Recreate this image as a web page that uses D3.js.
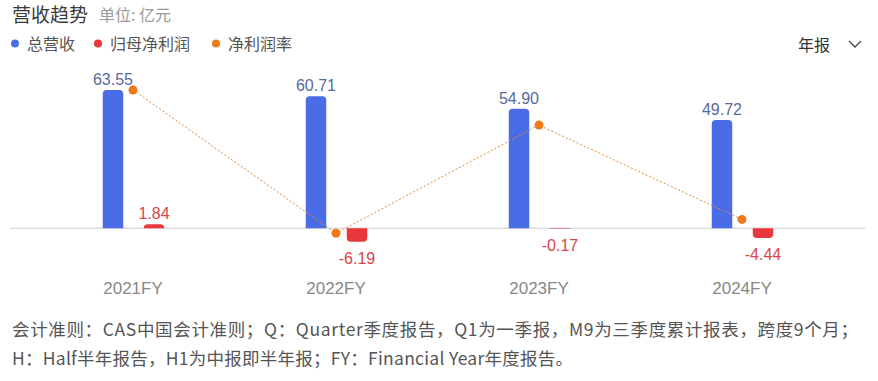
<!DOCTYPE html>
<html>
<head>
<meta charset="utf-8">
<script src="https://cdn.jsdelivr.net/npm/d3@7"></script>
<style>
  body { margin: 0; background: #fff; }
  svg { display: block; font-family: "Liberation Sans", Arial, sans-serif; }
  .cjk { font-family: "Noto Sans CJK SC", "Liberation Sans", sans-serif; }
</style>
</head>
<body>
<svg id="canvas" width="878" height="381"></svg>
<script>
// Data
let years = ["2021FY", "2022FY", "2023FY", "2024FY"];
let revenue = [63.55, 60.71, 54.90, 49.72];
let netProfit = [1.84, -6.19, -0.17, -4.44];
let netMargin = [2.90, -10.20, -0.31, -8.93];

let legendItems = [
    { name: "总营收", color: "#4a6ce6" },
    { name: "归母净利润", color: "#e8383d" },
    { name: "净利润率", color: "#ee7a1b" }
];

let footLines = [
    "会计准则：CAS中国会计准则；Q：Quarter季度报告，Q1为一季报，M9为三季度累计报表，跨度9个月；",
    "H：Half半年报告，H1为中报即半年报；FY：Financial Year年度报告。"
];
let footLengths = [846, 561];

let width = 878;
let height = 381;
let canvas = d3.select("#canvas");

// Scales
let x = d3.scaleBand().domain(years).range([31.5, 843.5]);
let inner = d3.scaleBand().domain(["rev", "np"]).range([61, 143]).paddingInner(0.5).paddingOuter(0.25);
let y = d3.scaleLinear().domain([0, 63.55]).range([228.3, 90]);
let yMargin = d3.scaleLinear().domain([-10.20, 2.90]).range([233.3, 90]);


function roundedBar(x0, w, yTop, yBottom, up) {
    let h = Math.abs(yBottom - yTop);
    let r = Math.min(4, h, w / 2);
    let p = d3.path();
    if (up) {
        p.moveTo(x0, yBottom);
        p.lineTo(x0, yTop + r);
        p.arcTo(x0, yTop, x0 + r, yTop, r);
        p.lineTo(x0 + w - r, yTop);
        p.arcTo(x0 + w, yTop, x0 + w, yTop + r, r);
        p.lineTo(x0 + w, yBottom);
    } else {
        p.moveTo(x0, yTop);
        p.lineTo(x0, yBottom - r);
        p.arcTo(x0, yBottom, x0 + r, yBottom, r);
        p.lineTo(x0 + w - r, yBottom);
        p.arcTo(x0 + w, yBottom, x0 + w, yBottom - r, r);
        p.lineTo(x0 + w, yTop);
    }
    p.closePath();
    return p.toString();
}


function drawHeader() {
    canvas.append("text").classed("cjk", true)
        .attr("x", 12).attr("y", 22)
        .attr("font-size", 19).attr("fill", "#3a3a3a")
        .text("营收趋势");
    canvas.append("text").classed("cjk", true)
        .attr("x", 99).attr("y", 21)
        .attr("font-size", 16).attr("fill", "#999")
        .text("单位: 亿元");

    let legendX = [15, 98, 216];
    let g = canvas.append("g");
    legendItems.forEach((d, i) => {
        g.append("circle")
            .attr("cx", legendX[i]).attr("cy", 43.5).attr("r", 4)
            .attr("fill", d.color);
        g.append("text").classed("cjk", true)
            .attr("x", legendX[i] + 12).attr("y", 49.5)
            .attr("font-size", 16).attr("fill", "#555")
            .text(d.name);
    });

    canvas.append("text").classed("cjk", true)
        .attr("x", 798).attr("y", 51)
        .attr("font-size", 16).attr("fill", "#333")
        .text("年报");
    canvas.append("path")
        .attr("d", "M849,41 L855,47 L861,41")
        .attr("fill", "none").attr("stroke", "#444").attr("stroke-width", 1.3);
}


function drawChart() {
    // zero line
    canvas.append("line")
        .attr("x1", 10).attr("x2", 865)
        .attr("y1", y(0)).attr("y2", y(0))
        .attr("stroke", "#ddd").attr("stroke-width", 1.5);

    // revenue bars
    canvas.append("g").selectAll("path")
        .data(years)
        .enter()
        .append("path")
        .attr("fill", legendItems[0].color)
        .attr("d", (d, i) => roundedBar(x(d) + inner("rev"), inner.bandwidth(), y(revenue[i]), y(0), true));

    canvas.append("g").selectAll("text")
        .data(years)
        .enter()
        .append("text")
        .attr("x", d => x(d) + inner("rev") + inner.bandwidth() / 2)
        .attr("y", (d, i) => y(revenue[i]) - 5)
        .attr("text-anchor", "middle")
        .attr("font-size", 16)
        .attr("fill", "#5a6a9e")
        .text((d, i) => revenue[i].toFixed(2));

    // net profit bars
    canvas.append("g").selectAll("path")
        .data(years)
        .enter()
        .append("path")
        .attr("fill", legendItems[1].color)
        .attr("d", (d, i) => {
            let v = netProfit[i];
            return v >= 0
                ? roundedBar(x(d) + inner("np"), inner.bandwidth(), y(v), y(0), true)
                : roundedBar(x(d) + inner("np"), inner.bandwidth(), y(0), y(v), false);
        });

    canvas.append("g").selectAll("text")
        .data(years)
        .enter()
        .append("text")
        .attr("x", d => x(d) + inner("np") + inner.bandwidth() / 2)
        .attr("y", (d, i) => netProfit[i] >= 0 ? y(netProfit[i]) - 5 : y(netProfit[i]) + 22.5)
        .attr("text-anchor", "middle")
        .attr("font-size", 16)
        .attr("fill", "#d8454a")
        .text((d, i) => netProfit[i].toFixed(2));

    // net margin line
    let line = d3.line()
        .x((d, i) => x(years[i]) + x.bandwidth() / 2)
        .y(d => yMargin(d));
    canvas.append("path")
        .datum(netMargin)
        .attr("d", line)
        .attr("fill", "none")
        .attr("stroke", "#e08a3a")
        .attr("stroke-width", 1)
        .attr("stroke-dasharray", "2,2");
    canvas.append("g").selectAll("circle")
        .data(netMargin)
        .enter()
        .append("circle")
        .attr("cx", (d, i) => x(years[i]) + x.bandwidth() / 2)
        .attr("cy", d => yMargin(d))
        .attr("r", 4.5)
        .attr("fill", legendItems[2].color);

    // x axis labels
    let axis = d3.axisBottom(x).tickSize(0).tickPadding(0);
    let ax = canvas.append("g")
        .attr("transform", "translate(0,282)")
        .call(axis);
    ax.select(".domain").remove();
    ax.selectAll("text")
        .attr("font-size", 17)
        .attr("font-family", "'Liberation Sans', Arial, sans-serif")
        .attr("fill", "#888");
}


function drawFootnote() {
    canvas.append("g").selectAll("text")
        .data(footLines)
        .enter()
        .append("text")
        .classed("cjk", true)
        .attr("x", 12)
        .attr("y", (d, i) => 336 + i * 29)
        .attr("font-size", 17.5)
        .attr("textLength", (d, i) => footLengths[i])
        .attr("lengthAdjust", "spacing")
        .attr("fill", "#555")
        .text(d => d);
}


drawHeader();
drawChart();
drawFootnote();
</script>
</body>
</html>
